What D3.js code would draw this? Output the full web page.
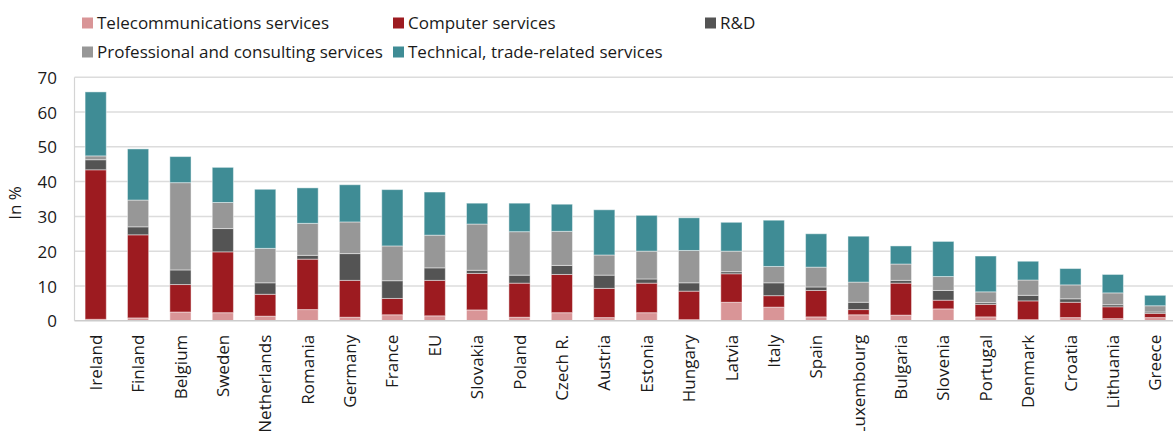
<!DOCTYPE html>
<html>
<head>
<meta charset="utf-8">
<script src="https://cdn.jsdelivr.net/npm/d3@7"></script>
<style>
  html, body { margin: 0; padding: 0; background: #fff; }
  svg { display: block; font-family: "Open Sans", "Noto Sans", sans-serif; }
</style>
</head>
<body>
<svg id="chart" width="1173" height="431"></svg>
<script>
const categories = ["Ireland","Finland","Belgium","Sweden","Netherlands","Romania","Germany","France","EU","Slovakia","Poland","Czech R.","Austria","Estonia","Hungary","Latvia","Italy","Spain","Luxembourg","Bulgaria","Slovenia","Portugal","Denmark","Croatia","Lithuania","Greece"];
const seriesNames = ["Telecommunications services","Computer services","R&D","Professional and consulting services","Technical, trade-related services"];
const telecom      = [0.4, 0.8, 2.5, 2.3, 1.3, 3.2, 1.0, 1.7, 1.4, 3.1, 1.0, 2.3, 0.9, 2.3, 0.3, 5.3, 3.9, 1.1, 1.7, 1.6, 3.4, 1.1, 0.3, 0.9, 0.6, 0.9];
const computer     = [43.0, 23.9, 7.9, 17.5, 6.3, 14.5, 10.6, 4.7, 10.2, 10.5, 9.8, 11.0, 8.4, 8.5, 8.2, 8.2, 3.3, 7.6, 1.5, 9.2, 2.5, 3.6, 5.4, 4.4, 3.4, 1.2];
const rnd          = [2.9, 2.3, 4.2, 6.7, 3.3, 1.1, 7.7, 5.1, 3.6, 0.9, 2.3, 2.6, 3.8, 1.2, 2.4, 0.6, 3.7, 1.0, 2.1, 0.8, 2.8, 0.5, 1.6, 1.0, 0.6, 0.4];
const professional = [1.1, 7.7, 25.1, 7.5, 9.9, 9.2, 9.1, 10.0, 9.4, 13.3, 12.5, 9.8, 5.8, 8.0, 9.3, 5.9, 4.7, 5.7, 5.8, 4.7, 4.0, 3.1, 4.4, 4.0, 3.4, 1.8];
const technical    = [18.4, 14.7, 7.5, 10.1, 17.0, 10.2, 10.7, 16.2, 12.4, 6.0, 8.2, 7.8, 13.0, 10.3, 9.4, 8.3, 13.3, 9.6, 13.2, 5.2, 10.1, 10.3, 5.4, 4.7, 5.3, 3.0];
const yTicks = [0, 10, 20, 30, 40, 50, 60, 70];
const yLabel = "In %";
const colors = ["#d99597", "#9d1b20", "#545454", "#979797", "#3f8c95"];

const keys = ["telecom","computer","rnd","professional","technical"];
const valueArrays = [telecom, computer, rnd, professional, technical];
const rows = categories.map((c, i) => {
  const r = {category: c};
  keys.forEach((k, j) => r[k] = valueArrays[j][i]);
  return r;
});

const svg = d3.select("#chart");
const x = d3.scaleBand().domain(categories).range([74.5, 1176.4]).paddingInner(0.5).paddingOuter(0.25);
const y = d3.scaleLinear().domain([0, 70]).range([320.7, 77.3]);
const color = d3.scaleOrdinal().domain(keys).range(colors);

// gridlines
svg.append("g").selectAll("line").data(yTicks.filter(d => d > 0)).join("line")
  .attr("x1", 74.5).attr("x2", 1173)
  .attr("y1", d => y(d)).attr("y2", d => y(d))
  .attr("stroke", "#dcdcdc").attr("stroke-width", 1.5);

// left axis line
svg.append("line").attr("x1", 74.5).attr("x2", 74.5).attr("y1", y(70)).attr("y2", y(0))
  .attr("stroke", "#d4d4d4").attr("stroke-width", 1.2);

// stacked bars
const stacked = d3.stack().keys(keys)(rows);
svg.append("g").selectAll("g").data(stacked).join("g")
  .attr("fill", d => color(d.key))
  .selectAll("rect").data(d => d).join("rect")
  .attr("x", d => x(d.data.category))
  .attr("width", x.bandwidth())
  .attr("y", d => y(d[1]))
  .attr("height", d => y(d[0]) - y(d[1]))
  .attr("stroke", "rgba(255,255,255,0.45)")
  .attr("stroke-width", 1);

// bottom axis line
svg.append("line").attr("x1", 74.5).attr("x2", 1173).attr("y1", y(0)).attr("y2", y(0))
  .attr("stroke", "#cccccc").attr("stroke-width", 1.5);

// y axis
const yAxis = d3.axisLeft(y).tickValues(yTicks).tickSize(0).tickPadding(0).tickFormat(d3.format("d"));
const yg = svg.append("g").attr("transform", "translate(57,0)").call(yAxis);
yg.select(".domain").remove();
yg.selectAll("text").attr("font-size", 17).attr("fill", "#1a1a1a").attr("font-family", "'Open Sans', sans-serif").attr("dy", "0.36em");

svg.append("text").attr("transform", "translate(21,203) rotate(-90)")
  .attr("text-anchor", "middle").attr("font-size", 17).attr("fill", "#1a1a1a").text(yLabel);

// x axis
const xAxis = d3.axisBottom(x).tickSize(0).tickPadding(0);
const xg = svg.append("g").attr("transform", "translate(0," + y(0) + ")").call(xAxis);
xg.select(".domain").remove();
xg.selectAll("text")
  .attr("font-size", 17).attr("fill", "#1a1a1a").attr("font-family", "'Open Sans', sans-serif")
  .attr("text-anchor", "end")
  .attr("transform", "rotate(-90)")
  .attr("x", -14).attr("y", 0).attr("dy", "0.36em");

// legend
const legendPos = [[82, 29], [393, 29], [705, 29], [82, 58], [393, 58]];
const lg = svg.append("g");
seriesNames.forEach((name, i) => {
  const [lx, ly] = legendPos[i];
  lg.append("rect").attr("x", lx).attr("y", ly - 11.5).attr("width", 11).attr("height", 11).attr("fill", colors[i]);
  lg.append("text").attr("x", lx + 15).attr("y", ly).attr("font-size", 17).attr("fill", "#1a1a1a").text(name);
});
</script>
</body>
</html>
